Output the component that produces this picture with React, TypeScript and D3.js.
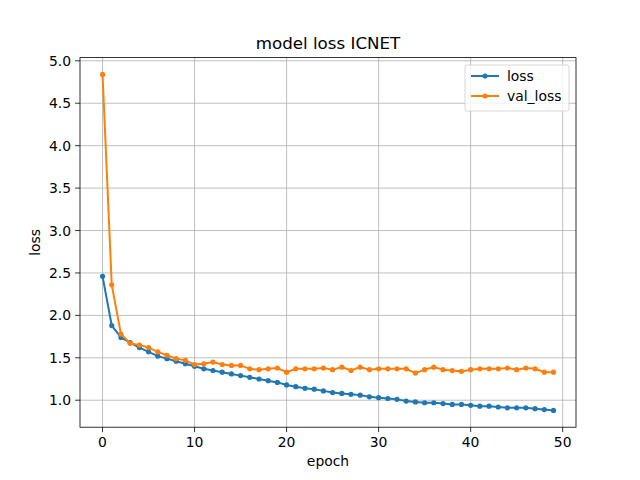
import * as d3 from 'd3';

const epochs = d3.range(50);
const loss = [2.46, 1.88, 1.74, 1.68, 1.62, 1.57, 1.52, 1.49, 1.46, 1.43, 1.40, 1.37, 1.35, 1.33, 1.31, 1.29, 1.27, 1.25, 1.23, 1.21, 1.18, 1.16, 1.14, 1.13, 1.11, 1.09, 1.08, 1.07, 1.06, 1.04, 1.03, 1.02, 1.01, 0.99, 0.98, 0.97, 0.97, 0.96, 0.95, 0.95, 0.94, 0.93, 0.93, 0.92, 0.91, 0.91, 0.91, 0.90, 0.89, 0.88];
const valLoss = [4.84, 2.36, 1.78, 1.67, 1.65, 1.62, 1.57, 1.53, 1.49, 1.47, 1.42, 1.43, 1.45, 1.42, 1.41, 1.41, 1.37, 1.36, 1.37, 1.38, 1.33, 1.37, 1.37, 1.37, 1.38, 1.36, 1.39, 1.35, 1.39, 1.36, 1.37, 1.37, 1.37, 1.37, 1.32, 1.36, 1.39, 1.36, 1.35, 1.34, 1.36, 1.37, 1.37, 1.37, 1.38, 1.36, 1.38, 1.37, 1.33, 1.33];
const xTicks = [0, 10, 20, 30, 40, 50];
const yTicks = [1.0, 1.5, 2.0, 2.5, 3.0, 3.5, 4.0, 4.5, 5.0];

const series = [
  { name: 'loss', values: loss, color: '#1f77b4' },
  { name: 'val_loss', values: valLoss, color: '#ff7f0e' },
];

export default function App() {
  const W = 640, H = 480;
  const m = { left: 80, right: 576, top: 57.6, bottom: 427.2 };
  const x = d3.scaleLinear().domain([-2.45, 51.45]).range([m.left, m.right]);
  const lo = 0.88, hi = 4.84, pad = (hi - lo) * 0.05;
  const y = d3.scaleLinear().domain([lo - pad, hi + pad]).range([m.bottom, m.top]);
  const line = d3.line<number>().x((_, i) => x(epochs[i])).y((d) => y(d));
  const font = 'DejaVu Sans, sans-serif';
  const fs = 13.9;

  return (
    <svg width={W} height={H} style={{ position: 'absolute', left: 0, top: 0, background: '#fff' }} fontFamily={font}>
      {xTicks.map((t) => (
        <g key={'x' + t}>
          <line x1={x(t)} x2={x(t)} y1={m.top} y2={m.bottom} stroke="#b0b0b0" strokeWidth={0.8} />
          <line x1={x(t)} x2={x(t)} y1={m.bottom} y2={m.bottom + 4.9} stroke="#000" strokeWidth={0.8} />
          <text x={x(t)} y={m.bottom + 20} textAnchor="middle" fontSize={fs}>{t}</text>
        </g>
      ))}
      {yTicks.map((t) => (
        <g key={'y' + t}>
          <line x1={m.left} x2={m.right} y1={y(t)} y2={y(t)} stroke="#b0b0b0" strokeWidth={0.8} />
          <line x1={m.left - 4.9} x2={m.left} y1={y(t)} y2={y(t)} stroke="#000" strokeWidth={0.8} />
          <text x={m.left - 9} y={y(t) + 5} textAnchor="end" fontSize={fs}>{t.toFixed(1)}</text>
        </g>
      ))}
      {series.map((s) => (
        <g key={s.name}>
          <path d={line(s.values) ?? ''} fill="none" stroke={s.color} strokeWidth={2} />
          {s.values.map((v, i) => (
            <circle key={i} cx={x(epochs[i])} cy={y(v)} r={2.6} fill={s.color} />
          ))}
        </g>
      ))}
      <rect x={m.left} y={m.top} width={m.right - m.left} height={m.bottom - m.top} fill="none" stroke="#000" strokeWidth={0.8} />
      <text x={(m.left + m.right) / 2} y={m.top - 9} textAnchor="middle" fontSize={16.7}>model loss ICNET</text>
      <text x={(m.left + m.right) / 2} y={466} textAnchor="middle" fontSize={fs}>epoch</text>
      <text transform={`translate(40,${(m.top + m.bottom) / 2}) rotate(-90)`} textAnchor="middle" fontSize={fs}>loss</text>
      <g transform="translate(465,65)">
        <rect width={104} height={46} rx={2} fill="#fff" fillOpacity={0.8} stroke="#ccc" strokeWidth={0.8} />
        {series.map((s, i) => (
          <g key={s.name} transform={`translate(0,${11 + i * 20})`}>
            <line x1={6} x2={34} y1={0} y2={0} stroke={s.color} strokeWidth={2} />
            <circle cx={20} cy={0} r={2.6} fill={s.color} />
            <text x={42} y={5} fontSize={fs}>{s.name}</text>
          </g>
        ))}
      </g>
    </svg>
  );
}
